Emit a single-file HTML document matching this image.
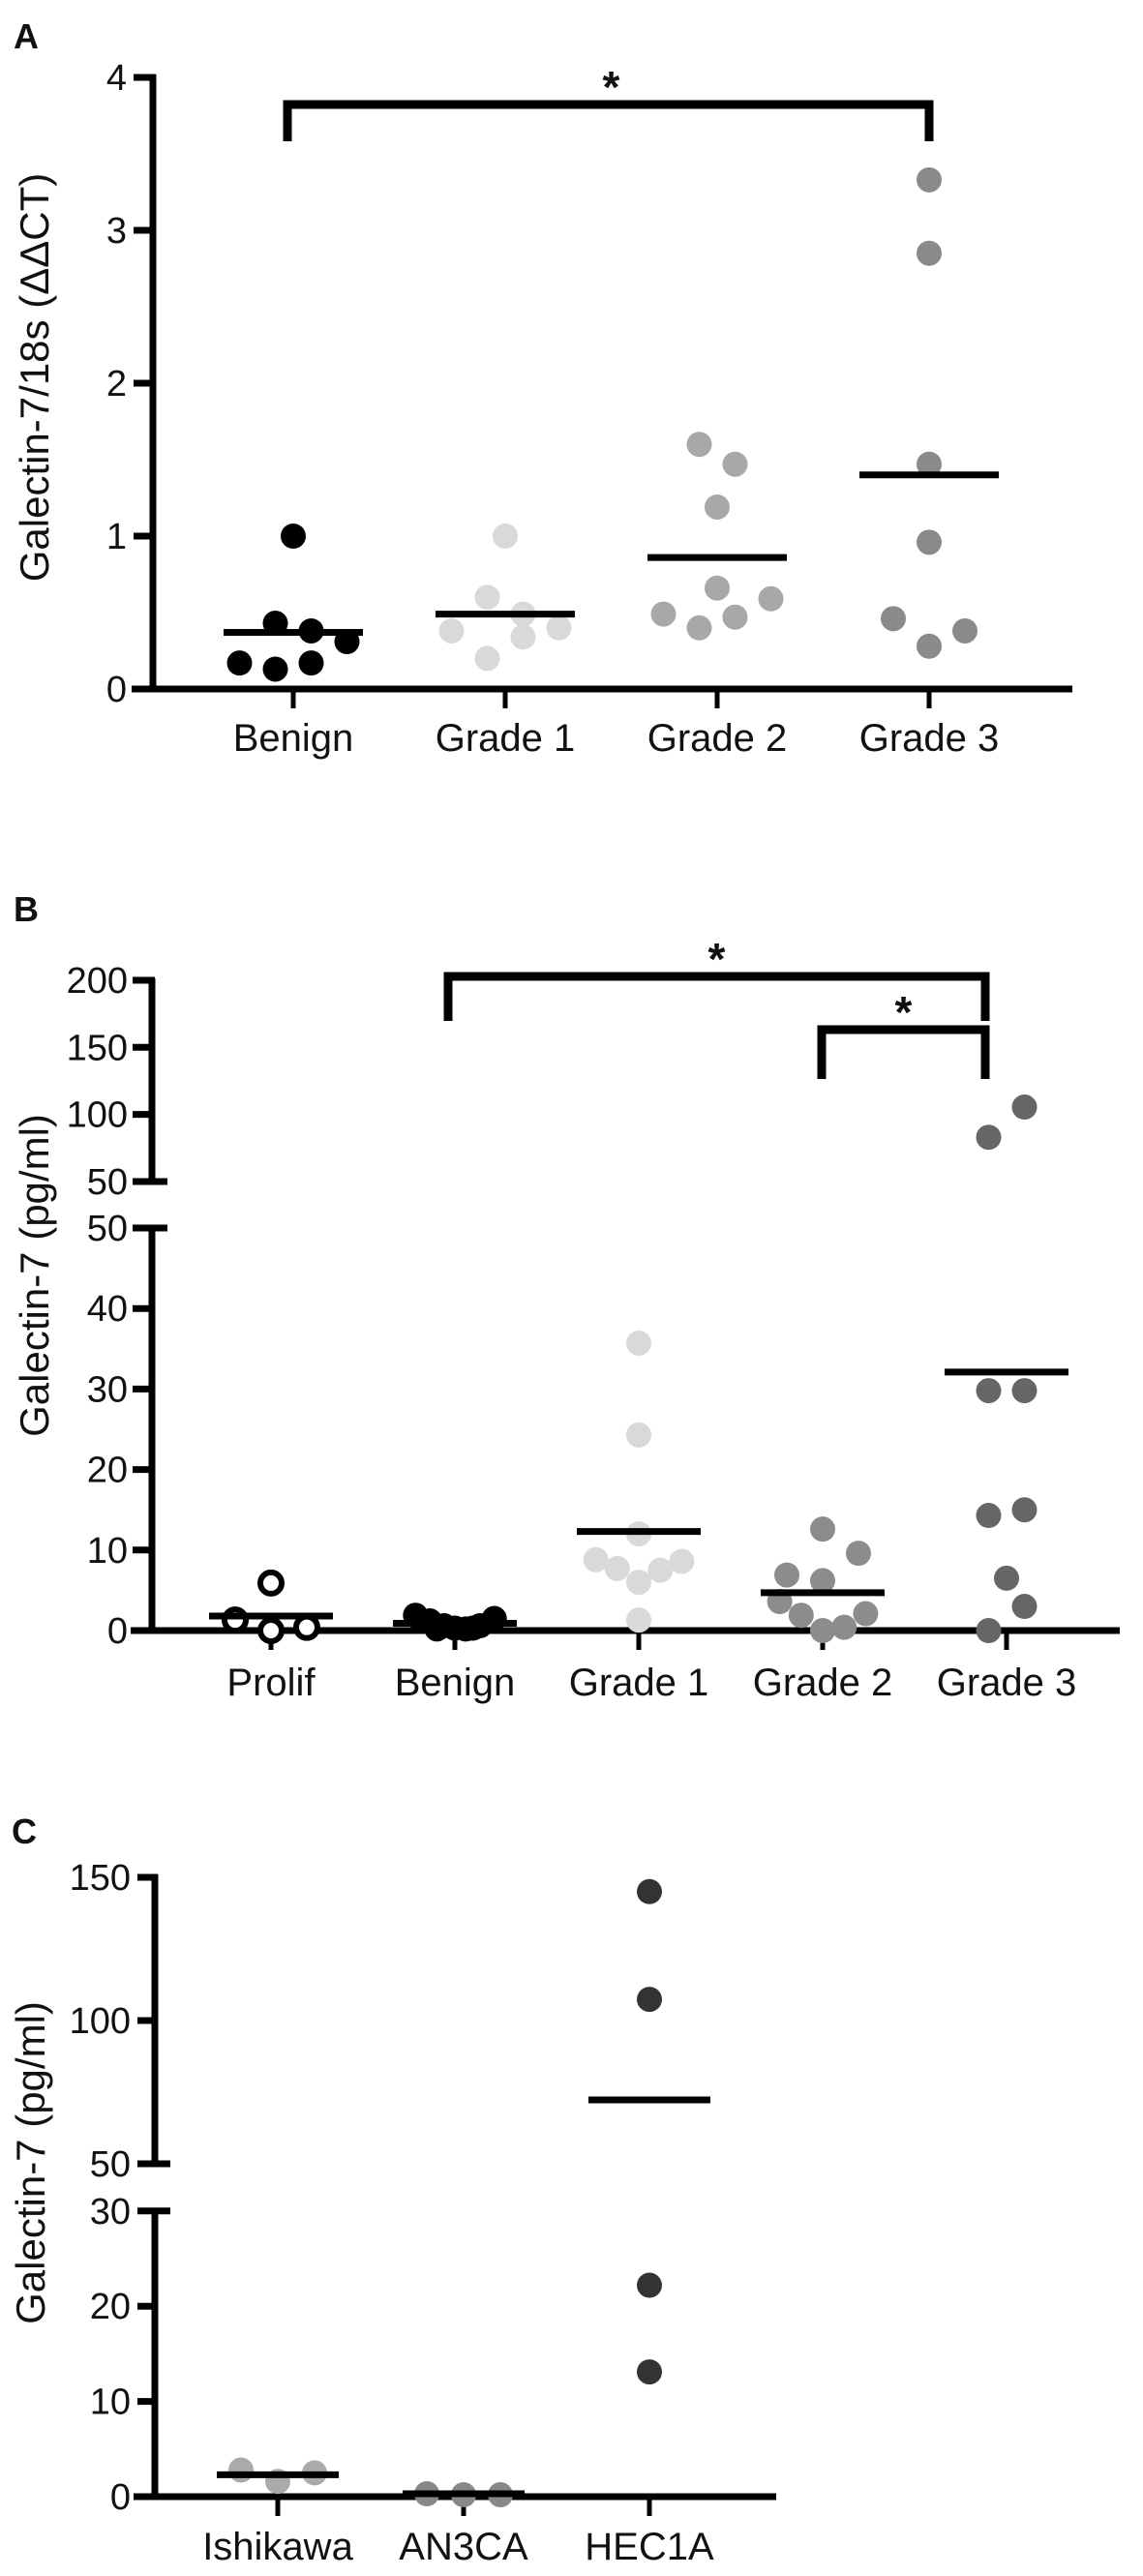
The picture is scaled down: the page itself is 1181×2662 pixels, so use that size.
<!DOCTYPE html>
<html><head><meta charset="utf-8"><style>
html,body{margin:0;padding:0;background:#fff;}
svg{display:block;font-family:"Liberation Sans",sans-serif;}
</style></head><body>
<svg id="fig" width="1181" height="2662" viewBox="0 0 1181 2662" xmlns="http://www.w3.org/2000/svg">
<rect width="1181" height="2662" fill="#fff"/>
</svg>
<script>
// ---------- Panel A data ----------
const aCategories = ["Benign","Grade 1","Grade 2","Grade 3"];
const aBenign = [1.0,0.43,0.38,0.31,0.17,0.13,0.17];
const aGrade1 = [1.0,0.60,0.49,0.38,0.40,0.34,0.20];
const aGrade2 = [1.60,1.47,1.19,0.66,0.59,0.49,0.47,0.40];
const aGrade3 = [3.33,2.85,1.47,0.96,0.46,0.38,0.28];
const aMeans = [0.37,0.49,0.86,1.40];
const aTicks = [0,1,2,3,4];
// ---------- Panel B data ----------
const bCategories = ["Prolif","Benign","Grade 1","Grade 2","Grade 3"];
const bProlif = [5.9,1.3,0,0.4];
const bBenign = [1.9,1.2,0.6,0.3,0.2,0.6,1.5,0.2,0.3];
const bGrade1 = [35.7,24.3,12.0,8.8,7.7,8.6,7.5,6.0,1.3];
const bGrade2 = [12.6,9.6,6.9,6.2,3.6,1.9,2.1,0,0.4];
const bGrade3 = [83,105.5,29.8,29.8,14.3,15.0,6.5,3.0,0];
const bMeans = [1.8,0.9,12.3,4.7,32.1];
const bLowTicks = [0,10,20,30,40,50];
const bHighTicks = [50,100,150,200];
// ---------- Panel C data ----------
const cCategories = ["Ishikawa","AN3CA","HEC1A"];
const cIshikawa = [2.8,1.6,2.5];
const cAN3CA = [0.3,0.2,0.2];
const cHEC1A = [145,107.4,22.2,13.1];
const cMeans = [2.3,0.3,72.3];
const cLowTicks = [0,10,20,30];
const cHighTicks = [50,100,150];

// jitter slots (layout)
const aJit = [[0,-0.5,0.5,1.5,-1.5,-0.5,0.5],[0,-0.5,0.5,-1.5,1.5,0.5,-0.5],[-0.5,0.5,0,0,1.5,-1.5,0.5,-0.5],[0,0,0,0,-1,1,0]];
const bJit = [[0,-1,0,1],[-1.1,-0.7,-0.3,0,0.3,0.7,1.1,-0.5,0.5],[0,0,0,-1.2,-0.6,1.2,0.6,0,0],[0,1,-1,0,-1.2,-0.6,1.2,0,0.6],[-0.5,0.5,-0.5,0.5,-0.5,0.5,0,0.5,-0.5]];
const cJit = [[-1,0,1],[-1,0,1],[0,0,0,0]];

const NS="http://www.w3.org/2000/svg";
const svg=document.getElementById('fig');
function mk(tag,attrs,parent){const e=document.createElementNS(NS,tag);for(const k in attrs)e.setAttribute(k,attrs[k]);(parent||svg).appendChild(e);return e;}
function line(x1,y1,x2,y2,w,name){const e=mk('line',{x1,y1,x2,y2,stroke:'#000','stroke-width':w});

return e;}
function text(x,y,s,size,anchor,name,extra){const e=mk('text',Object.assign({x,y,'font-size':size,'text-anchor':anchor,fill:'#111'},extra||{}));e.textContent=s;

return e;}

function panel(cfg){
  const yv=cfg.y;
  text(cfg.letter[1],cfg.letter[2],cfg.letter[0],36,'start','panel-letter',{'font-weight':'bold'});
  text(0,0,cfg.title,cfg.titleSize,'middle','y-axis-title',{transform:`translate(${cfg.titleX},${cfg.titleY}) rotate(-90)`});
  const ax=cfg.axisX;
  cfg.segments.forEach(s=>line(ax,yv(s[0])+3,ax,yv(s[1])-3,7,'y-axis-line'));
  cfg.ticks.forEach(t=>{const yy=yv(t[0]);
    line(ax-20,yy,ax+3,yy,7,'y-tick');
    text(ax-27,yy+13,String(t[0]),38,'end','y-tick-label');});
  const y0=yv(0);
  line(ax-22,y0,cfg.axisEnd,y0,7,'x-axis-line');
  cfg.cats.forEach((c,i)=>{const cx=cfg.cx(i);
    line(cx,y0,cx,y0+20,5,'x-tick');
    text(cx,cfg.labelY,c,40,'middle','x-label-'+c.toLowerCase().replace(/\s+/g,'-'));});
  cfg.series.forEach((vals,i)=>{const cx=cfg.cx(i);
    vals.forEach((v,j)=>{const open=cfg.open&&cfg.open[i];
      const c=mk('circle',{cx:cx+cfg.jit[i][j]*cfg.slot,cy:yv(v),r:open?11:cfg.r,
      fill:open?'#fff':cfg.colors[i],stroke:open?'#000':'none','stroke-width':open?6:0});
      
      });
  });
  cfg.means.forEach((m,i)=>{const cx=cfg.cx(i);line(cx-cfg.half,yv(m),cx+cfg.half,yv(m),7,'mean-line-'+cfg.cats[i].toLowerCase().replace(/\s+/g,'-'));});
  (cfg.brackets||[]).forEach(b=>{
    const p=mk('path',{d:`M${b[0]},${b[3]} V${b[2]} H${b[1]} V${b[3]}`,fill:'none',stroke:'#000','stroke-width':9});
    
    
    text((b[0]+b[1])/2+b[4],b[2]-2,'*',46,'middle','significance-star',{'font-weight':'bold'});
  });
}

// Panel A
const aY=v=>712-v*158;
panel({name:'panel-a',letter:['A',14,50],title:'Galectin-7/18s (ΔΔCT)',titleSize:42,titleX:50,titleY:390,axisX:158,axisEnd:1108,
  y:aY,segments:[[0,4]],ticks:aTicks.map(t=>[t]),cats:aCategories,cx:i=>303+i*219,labelY:776,
  series:[aBenign,aGrade1,aGrade2,aGrade3],jit:aJit,slot:37,r:13,colors:['#000','#d9d9d9','#a8a8a8','#8a8a8a'],
  means:aMeans,half:72,brackets:[[297,960,108,146,3]]});

// Panel B (broken axis)
const bY=v=>v<=50.5?1685-v*8.32:1221-(v-50)*1.387;
panel({name:'panel-b',letter:['B',14,952],title:'Galectin-7 (pg/ml)',titleSize:42,titleX:50,titleY:1318,axisX:157,axisEnd:1157,
  y:bY,segments:[],ticks:[],cats:bCategories,cx:i=>280+i*190,labelY:1752,
  series:[bProlif,bBenign,bGrade1,bGrade2,bGrade3],jit:bJit,slot:37,r:13,open:[true,false,false,false,false],
  colors:['#fff','#000','#d9d9d9','#8c8c8c','#666'],means:bMeans,half:64,
  brackets:[[463,1018,1009,1055,0],[849,1018,1064,1115,0]]});
(function(){const ax=157;
  line(ax,1269-3,ax,1688,7,'y-axis-lower');
  line(ax,1011,ax,1224,7,'y-axis-upper');
  bLowTicks.forEach(t=>{const yy=1685-t*8.32;line(ax-20,yy,ax+(t===50?16:3),yy,7,'y-tick');text(ax-25,yy+13,String(t),38,'end','y-tick-label');});
  bHighTicks.forEach(t=>{const yy=1221-(t-50)*1.387;line(ax-20,yy,ax+(t===50?16:3),yy,7,'y-tick');text(ax-25,yy+13,String(t),38,'end','y-tick-label');});
})();

// Panel C (broken axis)
const cY=v=>v<=30.5?2580-v*9.84:2236-(v-50)*2.96;
panel({name:'panel-c',letter:['C',12,1905],title:'Galectin-7 (pg/ml)',titleSize:42,titleX:46,titleY:2235,axisX:160,axisEnd:802,
  y:cY,segments:[],ticks:[],cats:cCategories,cx:i=>287+i*192,labelY:2645,
  series:[cIshikawa,cAN3CA,cHEC1A],jit:cJit,slot:38,r:13,colors:['#aaaaaa','#888888','#333333'],means:cMeans,half:63});
(function(){const ax=160;
  line(ax,2285-3,ax,2583,7,'y-axis-lower');
  line(ax,1937,ax,2239,7,'y-axis-upper');
  cLowTicks.forEach(t=>{const yy=2580-t*9.84;line(ax-18,yy,ax+(t===30?16:3),yy,7,'y-tick');text(ax-25,yy+13,String(t),38,'end','y-tick-label');});
  cHighTicks.forEach(t=>{const yy=2236-(t-50)*2.96;line(ax-18,yy,ax+(t===50?16:3),yy,7,'y-tick');text(ax-25,yy+13,String(t),38,'end','y-tick-label');});
})();
</script>
</body></html>
